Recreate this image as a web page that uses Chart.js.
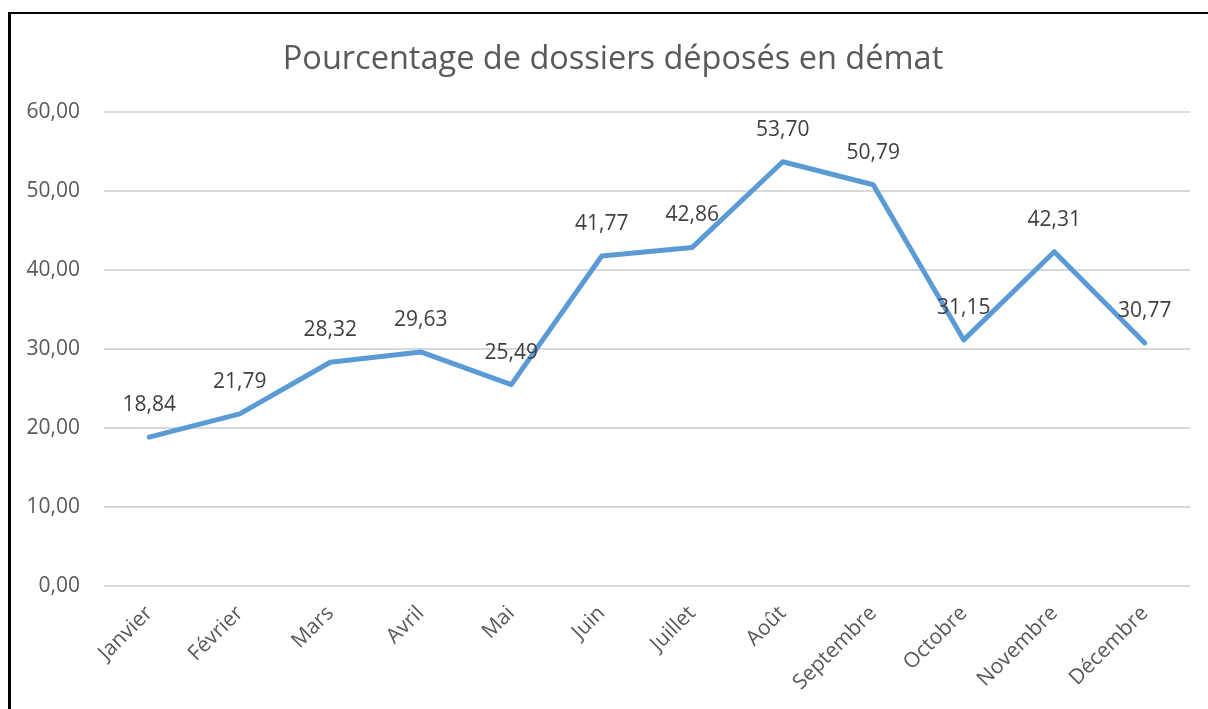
<!DOCTYPE html>
<html>
<head>
<meta charset="utf-8">
<script src="https://cdn.jsdelivr.net/npm/chart.js@4.4.1/dist/chart.umd.min.js"></script>
<style>
  html, body { margin: 0; padding: 0; background: #ffffff; overflow: hidden; }
  #wrap { position: relative; width: 1208px; height: 709px; }
  #frame { position: absolute; left: 8px; top: 12px; width: 1400px; height: 900px;
           border-left: 3px solid #000; border-top: 2px solid #000; pointer-events: none; }
  canvas { position: absolute; left: 0; top: 0; }
</style>
</head>
<body>
<div id="wrap">
  <canvas id="c" width="1208" height="709"></canvas>
  <div id="frame"></div>
</div>
<script>
const TITLE = "Pourcentage de dossiers déposés en démat";
const MONTHS = ["Janvier", "Février", "Mars", "Avril", "Mai", "Juin", "Juillet", "Août", "Septembre", "Octobre", "Novembre", "Décembre"];
const VALUES = [18.84, 21.79, 28.32, 29.63, 25.49, 41.77, 42.86, 53.70, 50.79, 31.15, 42.31, 30.77];
const Y_MIN = 0;
const Y_MAX = 60;
const Y_STEP = 10;

const FONT = "'Open Sans', 'Liberation Sans', sans-serif";
const fmt = v => v.toFixed(2).replace('.', ',');

const dataLabels = {
  id: 'dataLabels',
  afterDatasetsDraw(chart) {
    const ctx = chart.ctx;
    const meta = chart.getDatasetMeta(0);
    ctx.save();
    ctx.font = "21px " + FONT;
    ctx.fillStyle = "#404040";
    ctx.textAlign = "center";
    ctx.textBaseline = "middle";
    meta.data.forEach((pt, i) => {
      ctx.fillText(fmt(VALUES[i]), pt.x, pt.y - 32);
    });
    ctx.restore();
  }
};

const titleShift = {
  id: 'titleShift',
  afterLayout(chart) {
    if (chart.titleBlock) { chart.titleBlock.left += 36; }
  }
};

new Chart(document.getElementById('c'), {
  type: 'line',
  data: {
    labels: MONTHS,
    datasets: [{
      data: VALUES,
      borderColor: '#5B9BD5',
      borderWidth: 5,
      pointRadius: 0,
      pointHoverRadius: 0,
      tension: 0,
      fill: false,
      borderCapStyle: 'round',
      borderJoinStyle: 'round'
    }]
  },
  options: {
    responsive: false,
    animation: false,
    events: [],
    layout: { padding: { left: 0, right: 18, top: 0, bottom: 0 } },
    plugins: {
      legend: { display: false },
      tooltip: { enabled: false },
      title: {
        display: true,
        text: TITLE,
        color: '#595959',
        font: { family: FONT, size: 32.5, weight: 'normal', lineHeight: 1.2 },
        padding: { top: 40, bottom: 33 }
      }
    },
    scales: {
      x: {
        offset: true,
        grid: { display: false, drawTicks: false },
        border: { display: false },
        ticks: {
          color: '#595959',
          font: { family: FONT, size: 21 },
          maxRotation: 45, minRotation: 45,
          padding: 15,
          autoSkip: false
        },
        afterFit(scale) { scale.height = 123; }
      },
      y: {
        min: Y_MIN, max: Y_MAX,
        grid: { color: '#D9D9D9', lineWidth: 2, drawTicks: false },
        border: { display: false },
        ticks: {
          stepSize: Y_STEP,
          color: '#595959',
          font: { family: FONT, size: 21 },
          padding: 24,
          callback: v => fmt(v)
        },
        afterFit(scale) { scale.width = 104; }
      }
    }
  },
  plugins: [dataLabels, titleShift]
});
</script>
</body>
</html>
